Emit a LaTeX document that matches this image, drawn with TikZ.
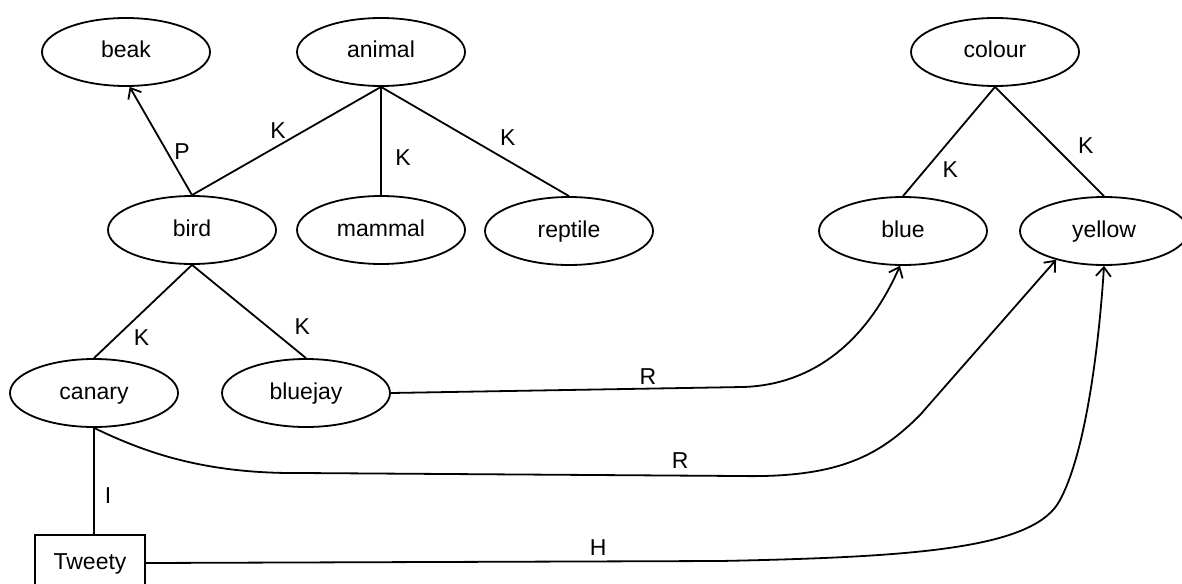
\documentclass[tikz,border=0pt]{standalone}
\usepackage{fontspec}
\setmainfont{Liberation Sans}
\usetikzlibrary{shapes.geometric,arrows.meta}
\begin{document}
\begin{tikzpicture}[x=1pt,y=-1pt,
  every node/.style={font=\fontsize{23}{27}\selectfont},
  concept/.style={draw, ellipse, line width=1.8pt, minimum width=168pt, minimum height=68pt, inner sep=0pt,
    text height=16.5pt, text depth=4.5pt},
  instance/.style={draw, rectangle, line width=1.2pt, minimum width=110pt, minimum height=56pt, inner sep=0pt,
    text height=16.5pt, text depth=4.5pt},
  link/.style={line width=1.8pt},
  rel/.style={link, -{Straight Barb[length=9pt,width=15pt]}},
  lbl/.style={inner sep=0pt}
]
\useasboundingbox (0,0) rectangle (1182,583);

% concept nodes
\node[concept] (beak)    at (126,52)  {beak};
\node[concept] (animal)  at (381,52)  {animal};
\node[concept] (colour)  at (995,52)  {colour};
\node[concept] (bird)    at (192,230) {bird};
\node[concept] (mammal)  at (381,230) {mammal};
\node[concept] (reptile) at (569,231) {reptile};
\node[concept] (blue)    at (903,231) {blue};
\node[concept] (yellow)  at (1104,231) {yellow};
\node[concept] (canary)  at (94,393)  {canary};
\node[concept] (bluejay) at (306,393) {bluejay};
% instance node
\node[instance] (tweety) at (90,563) {Tweety};

% kind-of links
\draw[link] (animal.south) -- node[lbl,pos=0.545,yshift=15pt]{K} (bird.north);
\draw[link] (animal.south) -- node[lbl,pos=0.655,xshift=22pt]{K} (mammal.north);
\draw[link] (animal.south) -- node[lbl,pos=0.675,yshift=23pt]{K} (reptile.north);
\draw[link] (colour.south) -- node[lbl,pos=0.757,xshift=25pt]{K} (blue.north);
\draw[link] (colour.south) -- node[lbl,pos=0.54,xshift=32pt]{K} (yellow.north);
\draw[link] (bird.south) -- node[lbl,pos=0.78,xshift=26pt]{K} (canary.north);
\draw[link] (bird.south) -- node[lbl,pos=0.66,xshift=35pt]{K} (bluejay.north);

% part-of
\draw[rel] (bird.north) -- node[lbl,pos=0.4,xshift=15pt]{P} (beak.276);

% instance-of
\draw[link] (canary.south) -- node[lbl,pos=0.64,xshift=14pt]{I} (canary.south |- tweety.north);

% relations
\draw[rel] (bluejay.east) -- node[lbl,pos=0.73,yshift=12pt]{R} (743,387)
  .. controls (810,385) and (865,345) .. (blue.265);
\draw[rel] (canary.south) .. controls (140,450) and (200,474) .. (300,473)
  -- node[lbl,pos=0.864,yshift=15pt]{R} (740,476)
  .. controls (840,478) and (880,455) .. (920,415) -- (yellow.211);
\draw[rel] (tweety.east) -- node[lbl,pos=0.788,yshift=14pt]{H} (720,561)
  .. controls (920,557) and (1035,548) .. (1060,500)
  .. controls (1088,448) and (1100,330) .. (yellow.south);
\end{tikzpicture}
\end{document}
